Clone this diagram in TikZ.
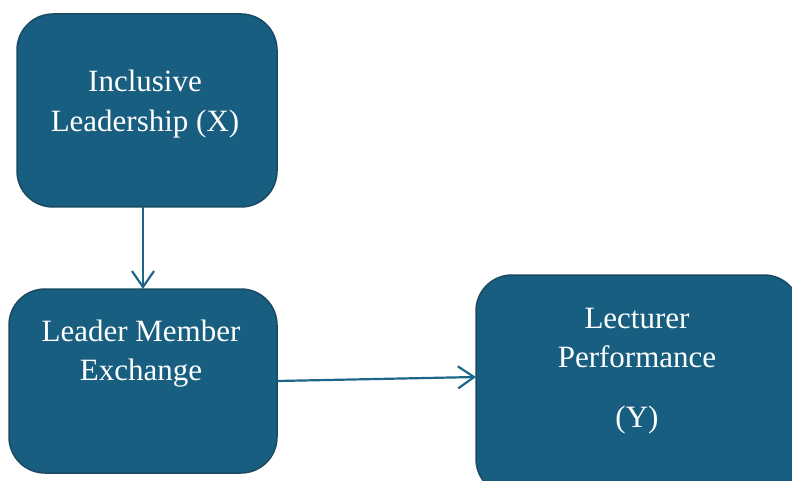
\documentclass[tikz,border=0pt]{standalone}
\usepackage{fontspec}
\setmainfont{Liberation Serif}
\usetikzlibrary{arrows.meta}
\definecolor{boxfill}{HTML}{175E80}
\definecolor{boxline}{HTML}{1B4A63}
\definecolor{arrowc}{HTML}{1C668C}
\tikzset{
  box/.style={draw=boxline, line width=1.5pt, fill=boxfill, rounded corners=36pt},
  lbl/.style={text=white, font=\fontsize{31}{39}\selectfont, anchor=base, inner sep=0pt},
  link/.style={draw=arrowc, line width=2.2pt, -{Straight Barb[length=16pt,width=22pt,line width=2.2pt]}}
}
\begin{document}
\begin{tikzpicture}[x=1pt,y=-1pt]
\useasboundingbox (0,0) rectangle (792,481);
\clip (0,0) rectangle (792,481);
\draw[box] (17,14) rectangle (277,207);
\draw[box] (9,289) rectangle (277,473);
\draw[box] (476,275) rectangle (800,495);
\node (b1) at (147,110.5) [minimum width=260pt, minimum height=193pt, inner sep=0pt] {};
\node (b2) at (143,381) [minimum width=268pt, minimum height=184pt, inner sep=0pt] {};
\coordinate (b3in) at (476,377);
\node[lbl] (t1a) at (145,92) {Inclusive};
\node[lbl] (t1b) at (145,132) {Leadership (X)};
\node[lbl] (t2a) at (141,341) {Leader Member};
\node[lbl] (t2b) at (141,380) {Exchange};
\node[lbl] (t3a) at (637,328) {Lecturer};
\node[lbl] (t3b) at (637,367) {Performance};
\node[lbl] (t3c) at (637,427) {(Y)};
\coordinate (a1s) at (143,207);
\coordinate (a1e) at (143,289);
\draw[link] (a1s) -- (a1e);
\draw[link] (b2.east) -- (b3in);
\end{tikzpicture}
\end{document}
